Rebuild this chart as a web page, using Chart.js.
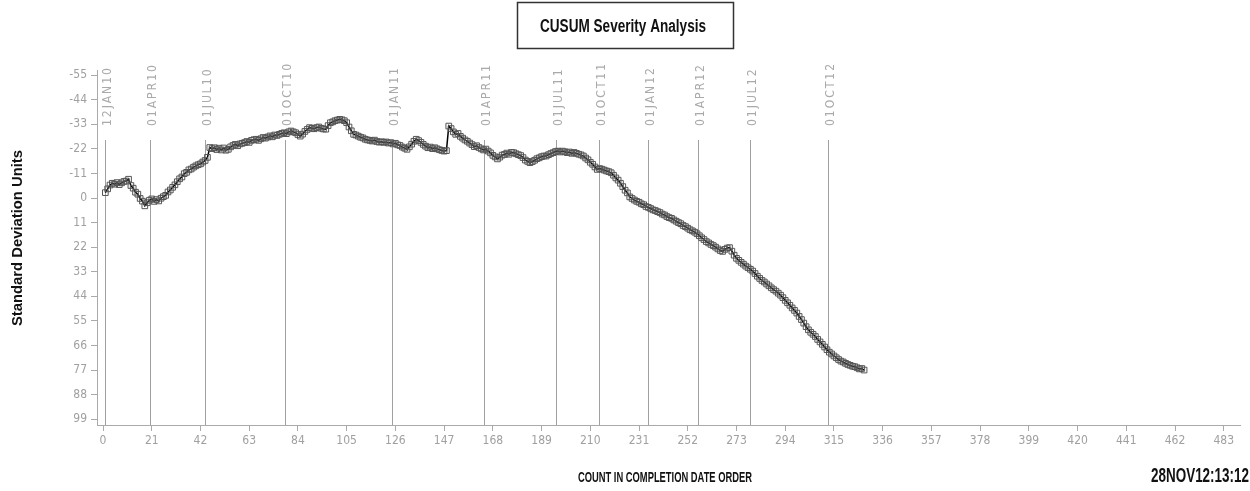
<!DOCTYPE html>
<html lang="en">
<head>
<meta charset="UTF-8">
<title>CUSUM Severity Analysis</title>
<script src="https://cdn.jsdelivr.net/npm/chart.js"></script>
<style>
  html, body { margin: 0; padding: 0; background: #fff; }
</style>
</head>
<body>
<canvas id="cusumChart" width="1250" height="491"></canvas>
<script>
// CUSUM in standard deviation units, one value per item in completion order (count 1..328)
const cusum = [
  -2.4, -4.1, -5.8, -6.6, -6.2, -6.9, -6.0, -6.8, -7.4, -7.6,
  -8.4, -5.6, -4.4, -2.6, -1.7, 0.2, 1.4, 3.5, 2.1, 1.0,
  0.4, 1.5, 0.7, 1.3, 0.1, -0.6, -1.2, -2.7, -3.6, -4.8,
  -5.9, -7.3, -8.6, -9.4, -10.9, -11.5, -12.6, -13.0, -13.8, -14.4,
  -14.9, -15.3, -16.1, -16.8, -18.2, -22.6, -22.1, -22.5, -21.7, -22.3,
  -21.5, -22.4, -21.4, -21.8, -22.9, -23.5, -24.0, -23.4, -24.2, -24.5,
  -24.8, -25.3, -24.9, -25.8, -26.1, -26.3, -25.8, -26.5, -27.1, -26.8,
  -27.3, -27.8, -27.4, -28.2, -28.0, -28.5, -28.9, -29.2, -28.8, -29.6,
  -30.0, -29.6, -29.2, -28.4, -27.7, -28.6, -29.8, -30.7, -31.5, -31.2,
  -31.0, -31.5, -31.8, -31.2, -30.9, -30.8, -32.4, -33.7, -34.1, -34.6,
  -34.9, -35.2, -35.0, -34.6, -33.7, -31.8, -30.1, -28.5, -28.2, -27.7,
  -27.2, -26.9, -26.3, -26.0, -25.8, -25.5, -25.9, -25.3, -25.0, -25.2,
  -24.9, -25.1, -24.6, -24.8, -24.2, -24.5, -23.8, -23.5, -22.8, -22.3,
  -21.8, -22.9, -24.1, -25.4, -26.3, -25.7, -24.9, -24.0, -23.2, -22.5,
  -22.8, -22.1, -22.5, -22.0, -21.6, -21.3, -21.0, -21.2, -32.2, -31.1,
  -29.6, -28.5, -28.9, -27.6, -26.8, -26.0, -25.4, -24.6, -23.9, -23.0,
  -23.4, -22.6, -22.0, -21.5, -21.9, -21.0, -20.2, -19.1, -18.4, -17.5,
  -18.3, -19.2, -19.5, -20.1, -19.6, -20.4, -20.3, -19.8, -19.4, -19.0,
  -18.1, -17.0, -16.4, -15.8, -16.3, -16.9, -17.6, -18.0, -18.5, -18.8,
  -18.8, -19.4, -19.9, -20.3, -20.8, -21.0, -20.6, -21.0, -20.7, -20.3,
  -20.6, -20.0, -20.4, -20.0, -19.6, -19.3, -18.8, -17.9, -17.1, -16.0,
  -15.1, -13.9, -12.8, -13.2, -12.9, -12.5, -12.1, -11.8, -11.3, -10.2,
  -9.0, -8.0, -6.6, -5.1, -3.5, -2.3, -0.5, 0.2, 0.9, 1.5,
  1.9, 2.6, 3.0, 3.8, 4.2, 4.7, 5.3, 5.6, 6.1, 6.5,
  7.2, 7.6, 8.3, 8.8, 9.1, 9.8, 10.4, 11.0, 11.5, 12.3,
  12.8, 13.5, 14.2, 14.7, 15.3, 16.0, 16.9, 17.8, 18.6, 19.5,
  20.1, 20.8, 21.3, 22.0, 22.8, 23.5, 23.9, 23.0, 22.4, 22.2,
  23.8, 25.6, 27.0, 27.9, 28.8, 29.6, 30.5, 31.2, 31.9, 32.7,
  33.8, 35.0, 36.0, 36.9, 37.6, 38.5, 39.3, 40.2, 41.0, 41.7,
  42.6, 43.5, 44.6, 45.8, 46.9, 48.0, 49.2, 50.3, 51.5, 53.0,
  54.4, 56.0, 57.6, 59.0, 60.1, 61.0, 62.0, 63.3, 64.4, 65.5,
  66.7, 67.9, 69.0, 69.8, 70.7, 71.5, 72.3, 73.0, 73.4, 74.0,
  74.5, 74.9, 75.3, 75.5, 76.0, 76.5, 76.3, 77.0
];

const xTicks = [0, 21, 42, 63, 84, 105, 126, 147, 168, 189, 210, 231, 252, 273, 294, 315, 336, 357, 378, 399, 420, 441, 462, 483];
const yTicks = [-55, -44, -33, -22, -11, 0, 11, 22, 33, 44, 55, 66, 77, 88, 99];

// date reference lines, placed at the count where each date starts
const refCounts = [1, 20.3, 44, 78.5, 124.6, 164.1, 195.1, 213.8, 234.7, 256.2, 278.9, 312.3];
const refLabels = ['12JAN10', '01APR10', '01JUL10', '01OCT10', '01JAN11', '01APR11', '01JUL11', '01OCT11', '01JAN12', '01APR12', '01JUL12', '01OCT12'];

const chartTitle = 'CUSUM Severity Analysis';
const xTitle = 'COUNT IN COMPLETION DATE ORDER';
const yTitle = 'Standard Deviation Units';
const stamp = '28NOV12:13:12';

const narrow = '"Liberation Sans Narrow", "DejaVu Sans Condensed", "Liberation Sans", sans-serif';
const bold = '"Liberation Sans", Arial, sans-serif';

// squeeze a string horizontally so it takes the given width
function fitText(ctx, text, x, y, width, font, align, angle) {
    ctx.save();
    ctx.font = font;
    const w = ctx.measureText(text).width;
    ctx.translate(x, y);
    if (angle) ctx.rotate(angle);
    ctx.scale(width / w, 1);
    ctx.textAlign = align;
    ctx.textBaseline = 'middle';
    ctx.fillText(text, 0, 0);
    ctx.restore();
}

const refLines = {
    id: 'refLines',
    beforeDatasetsDraw(chart) {
        const {ctx, chartArea, scales: {x}} = chart;
        ctx.save();
        refCounts.forEach((c, i) => {
            const px = Math.round(x.getPixelForValue(c)) + 0.5;
            ctx.strokeStyle = '#a0a0a0';
            ctx.lineWidth = 1;
            ctx.beginPath();
            ctx.moveTo(px, 140);
            ctx.lineTo(px, chartArea.bottom);
            ctx.stroke();

            ctx.save();
            ctx.translate(px + 2, 126);
            ctx.rotate(-Math.PI / 2);
            ctx.font = '12px ' + narrow;
            ctx.letterSpacing = '2px';
            ctx.fillStyle = '#aaaaaa';
            ctx.textAlign = 'left';
            ctx.textBaseline = 'middle';
            ctx.fillText(refLabels[i], 0, 0);
            ctx.restore();
        });
        ctx.restore();
    }
};

const decorations = {
    id: 'decorations',
    afterDraw(chart) {
        const ctx = chart.ctx;
        ctx.save();
        // boxed title
        ctx.strokeStyle = '#333';
        ctx.lineWidth = 1.5;
        ctx.strokeRect(517.5, 2.5, 216, 46);
        ctx.fillStyle = '#111';
        fitText(ctx, chartTitle, 623, 27, 166, 'bold 18px ' + bold, 'center');
        // axis titles and time stamp
        fitText(ctx, yTitle, 18, 238, 176, 'bold 15px ' + bold, 'center', -Math.PI / 2);
        fitText(ctx, xTitle, 665, 478, 174, 'bold 14px ' + bold, 'center');
        fitText(ctx, stamp, 1249, 476, 98, 'bold 21px ' + bold, 'right');
        ctx.restore();
    }
};

const ctx = document.getElementById('cusumChart').getContext('2d');
const chart = new Chart(ctx, {
    type: 'line',
    data: {
        datasets: [{
            data: cusum.map((v, i) => ({x: i + 1, y: v})),
            borderColor: '#000',
            borderWidth: 1.5,
            pointStyle: 'rect',
            pointRadius: 4,
            pointBorderColor: '#555',
            pointBorderWidth: 1,
            pointBackgroundColor: 'rgba(0,0,0,0)',
            tension: 0
        }]
    },
    options: {
        responsive: false,
        animation: false,
        devicePixelRatio: 1,
        layout: { padding: { top: 70, right: 10, left: 0, bottom: 0 } },
        plugins: {
            legend: { display: false },
            tooltip: { enabled: false }
        },
        scales: {
            x: {
                type: 'linear',
                min: -2.6,
                max: 490,
                afterBuildTicks: s => { s.ticks = xTicks.map(v => ({value: v})); },
                afterFit: s => { s.height = 66; },
                grid: { drawOnChartArea: false, tickLength: 6, color: '#aaa' },
                border: { color: '#aaa' },
                ticks: {
                    padding: 3,
                    maxRotation: 0,
                    autoSkip: false,
                    color: '#a0a0a0',
                    font: { family: narrow, size: 12 }
                }
            },
            y: {
                reverse: true,
                min: -57.3,
                max: 101.6,
                afterBuildTicks: s => { s.ticks = yTicks.map(v => ({value: v})); },
                afterFit: s => { s.width = 97; },
                grid: { drawOnChartArea: false, tickLength: 6, color: '#aaa' },
                border: { color: '#aaa' },
                ticks: {
                    padding: 4,
                    autoSkip: false,
                    color: '#a0a0a0',
                    font: { family: narrow, size: 12 }
                }
            }
        }
    },
    plugins: [refLines, decorations]
});
</script>
</body>
</html>
